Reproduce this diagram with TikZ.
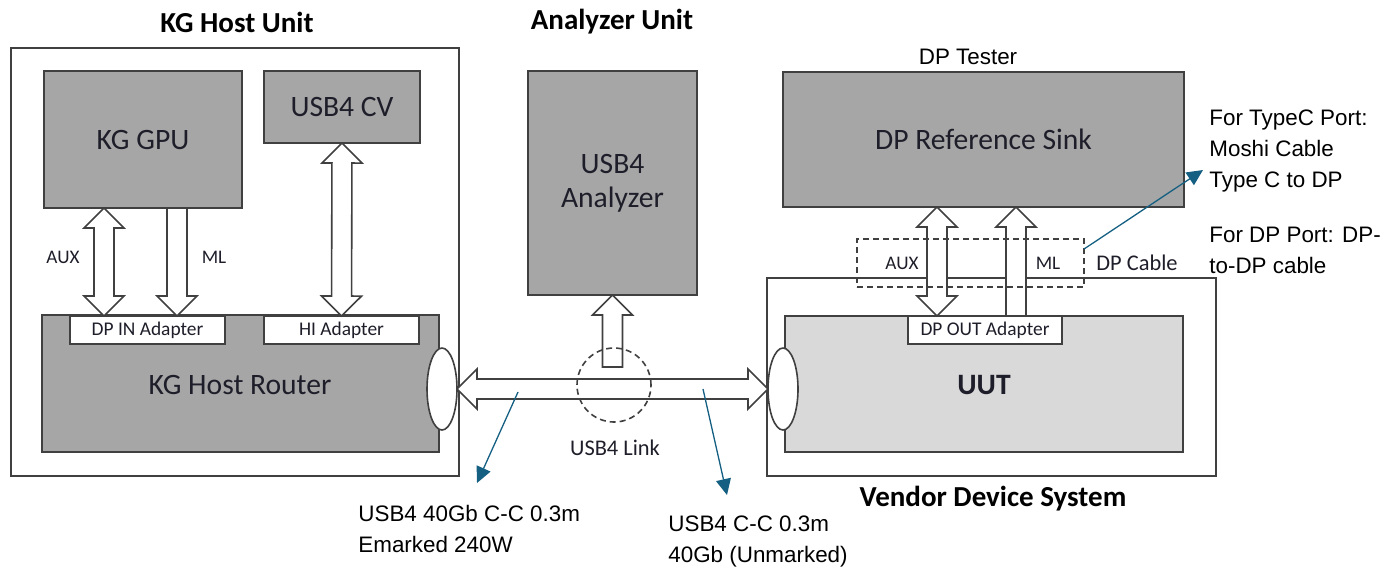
\documentclass[tikz,border=0pt]{standalone}
\usepackage{fontspec}
\setmainfont{Carlito}
\newfontfamily\notefont{Liberation Sans}
\usetikzlibrary{arrows.meta,calc,positioning,shapes.geometric}
\definecolor{blockgray}{RGB}{166,166,166}
\definecolor{uutgray}{RGB}{217,217,217}
\definecolor{calloutblue}{RGB}{21,96,130}
\definecolor{edgegray}{RGB}{64,64,64}
\definecolor{inkdark}{RGB}{30,30,42}
\tikzset{
  unitbox/.style    = {draw=edgegray, line width=0.75pt, inner sep=0pt, outer sep=0pt},
  darkblock/.style  = {draw=edgegray, fill=blockgray, line width=0.9pt, inner sep=0pt,
                       outer sep=0pt, text=inkdark, font=\fontsize{14.8}{16.8}\selectfont},
  lightblock/.style = {darkblock, fill=uutgray},
  adapter/.style    = {draw=edgegray, fill=white, line width=0.9pt, inner sep=0pt, outer sep=0pt,
                       minimum width=77.5pt, minimum height=14pt, text=inkdark,
                       font=\fontsize{9.7}{11}\selectfont},
  port/.style       = {ellipse, draw=edgegray, fill=white, line width=0.8pt, inner sep=0pt,
                       outer sep=0pt, minimum width=15pt, minimum height=41pt},
  blockarrow/.style = {draw=edgegray, fill=white, line width=0.8pt, line join=miter},
  sig/.style        = {text=inkdark, font=\fontsize{9.6}{11}\selectfont},
  tag/.style        = {text=inkdark, font=\fontsize{11.2}{13}\selectfont},
  title/.style      = {font=\fontsize{14.5}{16}\selectfont\bfseries},
  note/.style       = {font=\notefont\fontsize{11.2}{15.5}\selectfont, align=left,
                       inner sep=0pt, anchor=west},
  dashbox/.style    = {draw=edgegray, line width=0.8pt, dash pattern=on 3pt off 2pt},
  callout/.style    = {-{Triangle[length=8pt,width=7.5pt]}, draw=calloutblue, line width=0.65pt},
}
% block arrow sizes: head length, head half width, shaft half width
\def\bhl{10pt}
\def\bhw{10pt}
\def\bsw{5pt}
\newcommand{\twoway}[2]{%
  \coordinate (ba) at ($(#1)!\bhl!(#2)$);
  \coordinate (bb) at ($(#2)!\bhl!(#1)$);
  \filldraw[blockarrow] (#1) -- ($(ba)!\bhw!90:(#2)$) -- ($(ba)!\bsw!90:(#2)$)
    -- ($(bb)!\bsw!-90:(#1)$) -- ($(bb)!\bhw!-90:(#1)$) -- (#2)
    -- ($(bb)!\bhw!90:(#1)$) -- ($(bb)!\bsw!90:(#1)$)
    -- ($(ba)!\bsw!-90:(#2)$) -- ($(ba)!\bhw!-90:(#2)$) -- cycle;}
\newcommand{\oneway}[2]{%
  \coordinate (bb) at ($(#2)!\bhl!(#1)$);
  \filldraw[blockarrow] ($(#1)!\bsw!90:(#2)$) -- ($(bb)!\bsw!-90:(#1)$)
    -- ($(bb)!\bhw!-90:(#1)$) -- (#2) -- ($(bb)!\bhw!90:(#1)$)
    -- ($(bb)!\bsw!90:(#1)$) -- ($(#1)!\bsw!-90:(#2)$) -- cycle;}

\begin{document}
\begin{tikzpicture}[x=0.5pt,y=-0.5pt]
  \useasboundingbox (0,0) rectangle (1390,570);

  % ---------------- KG host unit -------------------------------------------
  \node[title] (hosttitle) at (237,22) {KG Host Unit};
  \node[unitbox, anchor=north west, minimum width=224pt, minimum height=214pt] (host) at (11,48) {};
  \node[darkblock, anchor=north west, minimum width=99pt, minimum height=68.5pt] (gpu) at (44,71) {KG GPU};
  \node[darkblock, anchor=north west, minimum width=78pt, minimum height=36pt] (cv) at (264,71) {USB4 CV};
  \node[darkblock, anchor=north west, minimum width=198.5pt, minimum height=68.5pt] (router) at (42,315) {};
  \node[text=inkdark, font=\fontsize{14.8}{16.8}\selectfont] (routerlbl) at (240,385) {KG Host Router};
  \node[adapter, anchor=north west] (dpin) at (70,316) {DP IN Adapter};
  \node[adapter, anchor=north west] (hiad) at (264,316) {HI Adapter};
  \node[port] (portl) at (442,389) {};

  \coordinate (auxtop) at ($(gpu.south west)+(60,0)$);
  \coordinate (auxbot) at (auxtop |- dpin.north);
  \twoway{auxtop}{auxbot}
  \coordinate (mltop) at ($(gpu.south west)+(133,0)$);
  \coordinate (mlbot) at (mltop |- dpin.north);
  \oneway{mltop}{mlbot}
  \twoway{cv.south}{hiad.north}
  \node[sig] (auxlbl) at (63,257) {AUX};
  \node[sig] (mllbl) at (214,257) {ML};

  % ---------------- analyzer unit ------------------------------------------
  \node[title] (antitle) at (612,22) {Analyzer Unit};
  \node[darkblock, anchor=north west, minimum width=84.5pt, minimum height=112pt,
        align=center] (analyzer) at (528,71) {USB4\\Analyzer};

  % ---------------- vendor device system -----------------------------------
  \node[unitbox, anchor=north west, minimum width=224.5pt, minimum height=99pt] (vendor) at (767,278) {};
  \node[title] (vendortitle) at (993,499) {Vendor Device System};
  \node[lightblock, anchor=north west, minimum width=199pt, minimum height=68pt] (uut) at (785,316) {};
  \node[text=inkdark, font=\fontsize{14.8}{16.8}\selectfont\bfseries] (uutlbl) at (984,385) {UUT};
  \node[adapter, anchor=north west, minimum width=77pt] (dpout) at (908,316) {DP OUT Adapter};
  \node[port] (portr) at (783,389) {};

  % ---------------- DP tester ----------------------------------------------
  \node[note, anchor=center] (testerlbl) at (968,57) {DP Tester};
  \node[darkblock, anchor=north west, minimum width=200.5pt, minimum height=67.5pt] (sink) at (783,72) {DP Reference Sink};
  \coordinate (dauxtop) at ($(sink.south west)+(154,0)$);
  \coordinate (dauxbot) at (dauxtop |- dpout.north);
  \twoway{dauxtop}{dauxbot}
  \coordinate (dmltop) at ($(sink.south west)+(233,0)$);
  \coordinate (dmlbot) at (dmltop |- dpout.north);
  \oneway{dmlbot}{dmltop}
  \node[dashbox, anchor=north west, minimum width=113.5pt, minimum height=24pt,
        inner sep=0pt, outer sep=0pt] (cable) at (857,239) {};
  \node[sig] (dauxlbl) at (902,263) {AUX};
  \node[sig] (dmllbl) at (1048,263) {ML};
  \node[tag] (cablelbl) at (1137,263) {DP Cable};

  % ---------------- USB4 link ----------------------------------------------
  \twoway{portl.east}{portr.west}
  \coordinate (tap) at ($(analyzer.south)+(0,72)$);
  \oneway{tap}{analyzer.south}
  \node[circle, dashbox, minimum size=37pt, inner sep=0pt] (probe) at (614,385) {};
  \node[tag] (linklbl) at (615,448) {USB4 Link};

  % ---------------- notes --------------------------------------------------
  \node[note] (typec) at (1209,151) {For TypeC Port:\\Moshi Cable\\Type C to DP};
  \node[note] (dpport) at (1209,250) {For DP Port: DP-\\to-DP cable};
  \node[note] (emark) at (358,529) {USB4 40Gb C-C 0.3m\\Emarked 240W};
  \node[note] (unmark) at (668,541) {USB4 C-C 0.3m\\40Gb (Unmarked)};

  \coordinate (cablehook) at ($(cable.north east)+(0,10)$);
  \coordinate (typectip) at ($(typec.west)+(-6,19)$);
  \draw[callout] (cablehook) -- (typectip);
  \coordinate (linkhookl) at ($(portl.east)+(61,3)$);
  \coordinate (emarktip) at ($(emark.west)+(119,-46)$);
  \draw[callout] (linkhookl) -- (emarktip);
  \coordinate (linkhookr) at ($(portr.west)+(-65,0)$);
  \coordinate (unmarktip) at ($(unmark.west)+(59,-46)$);
  \draw[callout] (linkhookr) -- (unmarktip);
\end{tikzpicture}
\end{document}
